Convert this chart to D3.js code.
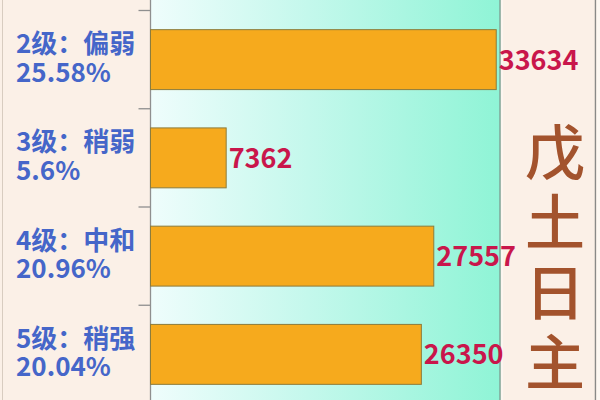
<!DOCTYPE html>
<html>
<head>
<meta charset="utf-8">
<script src="https://cdn.jsdelivr.net/npm/d3@7"></script>
<style>
html,body{margin:0;padding:0;background:#fbf0e7;}
svg{display:block;}
</style>
</head>
<body>
<svg id="chart" width="600" height="400"></svg>
<script>
const categories = ["2级：偏弱", "3级：稍弱", "4级：中和", "5级：稍强"];
const percentLabels = ["25.58%", "5.6%", "20.96%", "20.04%"];
const values = [33634, 7362, 27557, 26350];
const sideTitle = ["戊", "土", "日", "主"];

const W = 600, H = 400;
const plot = {left: 150.5, right: 500, top: 10.5, bottom: 403.5};

const svg = d3.select("#chart");

// backgrounds
svg.append("rect").attr("x", 0).attr("y", 0).attr("width", W).attr("height", H).attr("fill", "#fbf0e7");

const defs = svg.append("defs");
const grad = defs.append("linearGradient").attr("id", "plotGrad")
  .attr("x1", "0%").attr("x2", "100%").attr("y1", "0%").attr("y2", "0%");
grad.append("stop").attr("offset", "0%").attr("stop-color", "#effdfc");
grad.append("stop").attr("offset", "45%").attr("stop-color", "#c4f8ec");
grad.append("stop").attr("offset", "100%").attr("stop-color", "#8ff4d6");

svg.append("rect").attr("x", plot.left).attr("y", 0)
  .attr("width", plot.right - plot.left).attr("height", H)
  .attr("fill", "url(#plotGrad)");

// frame lines
svg.append("line").attr("x1", 2.5).attr("x2", 2.5).attr("y1", 0).attr("y2", H)
  .attr("stroke", "#d8ccc0").attr("stroke-width", 1);
svg.append("line").attr("x1", plot.right).attr("x2", plot.right).attr("y1", 0).attr("y2", H)
  .attr("stroke", "#7fa597").attr("stroke-width", 1.5);
svg.append("line").attr("x1", plot.right + 2).attr("x2", plot.right + 2).attr("y1", 0).attr("y2", H)
  .attr("stroke", "#ffffff").attr("stroke-width", 1).attr("opacity", 0.8);
svg.append("line").attr("x1", 595.5).attr("x2", 595.5).attr("y1", 0).attr("y2", H)
  .attr("stroke", "#8a8a88").attr("stroke-width", 1.5);
svg.append("rect").attr("x", 596.5).attr("y", 0).attr("width", 3.5).attr("height", H).attr("fill", "#fdf8f2");

// scales
const x = d3.scaleLinear().domain([0, 34000]).range([plot.left, plot.right]);
const y = d3.scaleBand().domain(categories).range([plot.top, plot.bottom])
  .paddingInner(0.39).paddingOuter(0.195);
const step = y.step();
const gap = step - y.bandwidth();

// axis line and ticks at band boundaries
svg.append("line").attr("x1", plot.left).attr("x2", plot.left).attr("y1", 0).attr("y2", H)
  .attr("stroke", "#8f8f8f").attr("stroke-width", 1.3);
const boundaries = categories.map(c => y(c) - gap / 2).concat([y(categories[categories.length - 1]) + y.bandwidth() + gap / 2]);
svg.selectAll(".tick").data(boundaries).enter().append("line")
  .attr("x1", plot.left - 12).attr("x2", plot.left)
  .attr("y1", d => d).attr("y2", d => d)
  .attr("stroke", "#8f8f8f").attr("stroke-width", 1.3);

// bars
const data = categories.map((c, i) => ({cat: c, pct: percentLabels[i], val: values[i]}));
svg.selectAll(".bar").data(data).enter().append("rect")
  .attr("x", x(0))
  .attr("y", d => y(d.cat))
  .attr("width", d => x(d.val) - x(0))
  .attr("height", y.bandwidth())
  .attr("fill", "#f6aa1d")
  .attr("stroke", "#8c7c3c")
  .attr("stroke-width", 1);

// value labels
svg.selectAll(".val").data(data).enter().append("text")
  .attr("x", d => x(d.val) + 2.5)
  .attr("y", d => y(d.cat) + y.bandwidth() / 2 + 10)
  .attr("fill", "#c9164b")
  .attr("font-family", "'Noto Sans CJK SC', 'Noto Sans', sans-serif")
  .attr("font-weight", 700)
  .attr("font-size", 27)
  .text(d => d.val);

// category labels (two lines)
const lab = svg.selectAll(".cat").data(data).enter().append("text")
  .attr("fill", "#4566c9")
  .attr("font-family", "'Noto Sans CJK SC', 'Noto Sans', sans-serif")
  .attr("font-weight", 700)
  .attr("font-size", 26);
lab.append("tspan").attr("x", 16)
  .attr("y", d => y(d.cat) + y.bandwidth() / 2 - 6.5)
  .text(d => d.cat);
lab.append("tspan").attr("x", 16)
  .attr("y", d => y(d.cat) + y.bandwidth() / 2 + 22)
  .text(d => d.pct);

// side vertical title
svg.selectAll(".side").data(sideTitle).enter().append("text")
  .attr("x", 555)
  .attr("y", (d, i) => 148 + i * 70)
  .attr("text-anchor", "middle")
  .attr("dominant-baseline", "central")
  .attr("fill", "#a3532d")
  .attr("font-family", "'Noto Sans CJK SC', sans-serif")
  .attr("font-weight", 500)
  .attr("font-size", 60)
  .text(d => d);
</script>
</body>
</html>
